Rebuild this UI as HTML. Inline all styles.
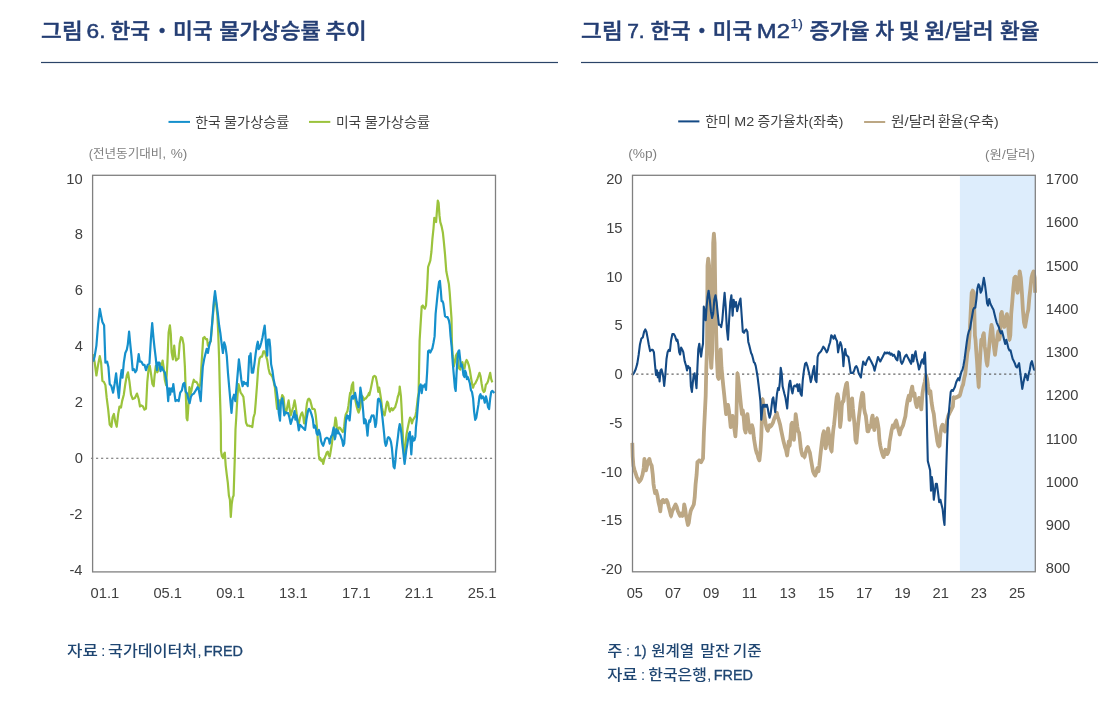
<!DOCTYPE html>
<html lang="ko">
<head>
<meta charset="utf-8">
<title>그림 6 · 그림 7</title>
<style>
html,body{margin:0;padding:0;background:#fff;}
body{width:1104px;height:702px;overflow:hidden;position:relative;}
svg{position:absolute;left:0;top:0;display:block;}
text{font-family:"Liberation Sans","Noto Sans CJK KR",sans-serif;}
.ax text{font-size:14px;font-weight:400;fill:#404040;}
</style>
</head>
<body>
<svg width="1104" height="702" viewBox="0 0 1104 702">
<rect x="41" y="61.9" width="517" height="1.2" fill="#2b4468"/>
<rect x="581" y="61.9" width="517" height="1.2" fill="#2b4468"/>
<rect x="168.5" y="120.9" width="21.5" height="2" fill="#1590cc"/>
<rect x="309" y="120.9" width="21.3" height="2" fill="#9bc33c"/>
<rect x="678.2" y="120.4" width="21.2" height="2" fill="#144a85"/>
<rect x="864.1" y="121" width="21.1" height="2" fill="#bca784"/>
<rect x="959.9" y="175.4" width="75.4" height="396.4" fill="#ddedfc"/>
<line x1="90.95" y1="458.3" x2="495" y2="458.3" stroke="#666" stroke-width="1.1" stroke-dasharray="2.2 2.85"/>
<line x1="631.16" y1="374.1" x2="1035" y2="374.1" stroke="#666" stroke-width="1.1" stroke-dasharray="2.2 2.84"/>
<path d="M93.2 354.1 L94.7 362.6 L96.4 375.5 L98.1 364.8 L99.8 356.2 L101.1 362.6 L102.4 380.8 L103.9 381.9 L105.4 385.1 L106.7 397.9 L108.2 409.7 L109.7 424.6 L111.4 426.8 L112.6 417.1 L113.9 413.9 L115.2 421.4 L116.7 426.8 L118.2 413.9 L119.5 406.5 L121.0 407.5 L122.1 401.1 L123.8 394.7 L125.3 384.0 L126.8 375.5 L128.0 372.3 L129.5 381.9 L131.0 394.7 L132.7 399.0 L134.9 397.9 L137.0 393.6 L138.7 399.0 L140.0 406.5 L141.3 405.4 L143.0 406.5 L144.5 409.7 L146.0 408.6 L147.3 381.9 L148.8 366.9 L149.8 365.9 L151.1 374.4 L152.4 384.0 L153.7 386.2 L154.5 376.5 L155.8 365.9 L157.3 372.3 L158.8 369.1 L160.5 363.7 L161.8 364.8 L162.6 360.5 L163.7 368.0 L164.8 379.7 L166.1 385.1 L167.4 362.6 L168.6 332.7 L169.9 325.3 L170.8 333.8 L171.6 352.0 L172.9 359.4 L174.2 345.6 L175.0 354.1 L176.1 360.5 L177.2 359.4 L178.5 358.4 L179.7 343.4 L181.0 337.0 L182.3 338.1 L183.6 344.5 L184.9 366.9 L185.7 390.4 L186.6 418.2 L187.4 420.3 L188.3 407.5 L189.4 387.2 L190.4 394.7 L191.5 390.4 L192.6 384.0 L193.8 379.7 L195.1 381.9 L196.4 381.9 L197.7 384.0 L199.0 388.3 L200.3 384.0 L201.1 371.2 L202.2 354.1 L203.2 338.1 L204.5 337.0 L205.8 339.1 L207.1 339.1 L207.9 345.6 L209.2 343.4 L210.7 341.3 L212.2 324.2 L213.5 309.2 L214.8 296.4 L216.1 302.8 L217.4 315.6 L218.2 332.7 L219.1 358.4 L219.9 392.6 L220.8 422.5 L221.0 450.6 L221.8 455.9 L223.1 458.1 L224.0 453.8 L224.8 452.7 L225.7 465.6 L226.7 474.1 L227.8 482.7 L228.9 495.5 L229.9 499.8 L230.8 516.9 L231.7 504.1 L232.7 497.6 L233.6 495.5 L234.2 476.3 L234.9 454.9 L235.5 429.2 L236.2 418.2 L237.4 396.8 L238.5 384.0 L239.6 388.3 L240.6 392.6 L242.1 394.7 L243.4 396.8 L244.7 409.7 L246.0 422.5 L247.3 425.7 L249.2 425.7 L249.7 426.1 L251.0 426.1 L252.3 427.1 L253.5 417.5 L254.8 413.2 L255.7 402.6 L257.0 385.5 L258.2 368.4 L259.5 358.8 L260.8 356.6 L262.1 356.6 L263.4 351.3 L264.7 351.3 L265.9 355.6 L267.2 359.8 L268.5 368.4 L269.8 373.7 L271.1 374.8 L272.4 376.9 L273.6 381.2 L274.9 387.6 L276.2 400.4 L277.1 409.0 L278.3 409.0 L279.6 400.4 L280.9 401.5 L282.2 395.1 L283.5 397.2 L284.7 409.0 L286.0 413.2 L287.3 406.8 L288.6 400.4 L289.4 406.8 L290.7 415.4 L292.0 411.1 L293.3 406.8 L294.6 400.4 L295.4 404.7 L296.3 411.1 L297.6 421.8 L298.8 423.9 L300.0 417.5 L301.2 413.9 L302.2 412.5 L303.2 416.1 L304.1 423.3 L305.1 423.3 L306.1 410.3 L307.0 403.0 L308.0 399.4 L309.0 398.7 L310.1 400.1 L311.3 404.5 L312.3 408.8 L313.8 408.8 L314.8 409.6 L315.7 414.6 L316.7 424.8 L317.4 433.5 L318.1 445.1 L318.8 455.2 L319.6 459.6 L320.3 458.1 L321.4 461.0 L322.5 459.6 L323.2 463.9 L323.9 461.0 L324.6 458.1 L325.8 455.2 L326.8 452.3 L327.8 451.6 L328.7 455.2 L329.7 456.7 L330.4 453.0 L331.2 448.0 L331.9 443.6 L332.6 437.8 L333.3 433.5 L334.1 429.1 L334.8 423.3 L335.5 417.5 L336.2 420.4 L336.8 426.2 L337.4 429.1 L338.1 430.6 L338.8 427.7 L339.9 427.7 L340.9 429.1 L341.7 430.6 L342.8 432.0 L343.5 430.6 L344.2 426.2 L344.9 419.0 L345.7 414.6 L346.4 413.2 L347.5 411.0 L348.4 405.9 L349.3 398.7 L350.1 392.9 L350.6 394.0 L351.8 385.5 L353.1 382.3 L353.6 392.9 L355.1 398.7 L356.5 405.9 L357.7 410.3 L358.6 412.5 L359.4 410.3 L360.3 407.4 L361.2 400.1 L362.0 395.8 L362.9 397.2 L363.8 400.1 L364.6 398.7 L365.5 398.7 L366.7 397.2 L367.8 395.8 L369.0 392.9 L369.4 395.1 L370.6 389.7 L371.9 383.3 L373.2 376.9 L374.5 375.9 L375.8 376.9 L377.1 383.3 L378.3 391.9 L378.6 391.4 L379.2 387.6 L380.3 394.3 L381.2 400.1 L382.0 407.4 L382.9 411.7 L383.8 413.9 L384.6 415.4 L385.5 410.3 L386.4 404.5 L387.2 401.6 L388.1 403.0 L389.0 408.8 L389.9 411.7 L390.7 408.8 L391.6 408.1 L392.5 410.3 L393.3 409.6 L394.2 408.1 L395.1 407.4 L395.9 404.5 L396.8 401.6 L397.7 397.2 L398.6 394.3 L399.4 391.4 L399.7 386.5 L400.9 395.8 L401.4 404.5 L402.0 416.1 L402.6 430.6 L403.2 442.2 L403.8 452.3 L404.3 456.7 L404.9 453.8 L405.5 445.1 L406.1 437.8 L406.7 433.5 L407.5 429.1 L408.4 424.8 L409.3 420.4 L410.1 417.5 L411.0 419.0 L411.9 423.3 L412.8 420.4 L413.6 419.0 L414.5 417.5 L415.4 416.1 L416.2 411.7 L417.1 404.5 L417.7 398.7 L418.6 392.9 L419.6 340.7 L420.7 322.6 L421.7 306.6 L422.8 305.5 L423.9 307.6 L424.9 308.7 L426.0 305.5 L427.1 288.4 L428.1 267.0 L429.2 263.8 L430.3 260.6 L431.4 252.0 L432.4 239.2 L433.5 228.5 L434.3 217.8 L435.2 219.9 L436.1 222.1 L436.9 211.4 L437.8 200.7 L438.6 202.8 L439.5 215.7 L440.3 222.1 L441.6 226.4 L442.9 232.8 L443.8 241.3 L445.0 254.2 L446.3 271.3 L447.6 277.7 L448.9 284.1 L449.7 292.7 L450.6 305.5 L451.5 318.3 L451.9 342.8 L452.7 355.7 L453.8 366.4 L454.9 362.1 L455.9 355.7 L457.0 353.5 L458.1 362.1 L459.2 368.5 L460.2 369.6 L461.3 364.2 L462.4 362.1 L463.4 367.4 L464.5 368.5 L465.6 362.1 L466.6 359.9 L467.7 362.1 L468.8 365.3 L469.9 370.6 L470.9 377.0 L472.0 383.5 L473.1 387.7 L474.1 384.5 L475.2 383.5 L476.3 381.3 L477.3 379.2 L478.4 376.0 L479.5 372.8 L480.5 376.0 L481.6 383.5 L482.7 389.9 L483.8 392.0 L484.8 390.9 L485.9 384.5 L487.0 383.5 L488.0 381.3 L489.1 377.0 L490.2 372.8 L491.2 379.2 L492.3 382.4" fill="none" stroke="#9bc33c" stroke-width="2.2" stroke-linejoin="round"/>
<path d="M93.2 361.6 L94.7 356.2 L96.4 345.6 L98.1 324.2 L99.8 308.8 L101.1 315.6 L102.4 322.1 L104.1 325.3 L105.4 362.6 L107.1 361.6 L108.4 366.9 L109.7 384.0 L111.4 386.2 L113.1 392.6 L114.6 384.0 L116.1 373.3 L117.4 386.2 L118.8 397.9 L120.3 379.7 L121.6 370.1 L122.5 377.6 L123.8 362.6 L125.3 353.0 L126.8 349.8 L127.8 344.5 L129.1 331.7 L130.2 343.4 L131.5 356.2 L132.7 370.1 L134.0 369.1 L135.3 372.3 L136.6 370.1 L137.9 360.5 L138.7 354.1 L139.8 361.6 L141.3 361.6 L143.0 364.8 L144.5 364.8 L146.0 370.1 L147.7 364.8 L149.4 363.7 L150.9 339.1 L152.2 323.1 L153.5 338.1 L154.5 347.7 L155.8 358.4 L156.9 370.1 L157.9 362.6 L159.4 362.6 L160.5 371.2 L161.8 366.9 L163.1 370.1 L164.8 372.3 L166.5 380.8 L167.4 390.4 L168.2 401.1 L169.1 388.3 L170.1 394.7 L171.2 388.3 L172.5 391.5 L173.3 384.0 L174.6 394.7 L175.5 401.1 L177.2 400.0 L178.7 401.1 L180.2 392.6 L181.9 390.4 L183.2 384.0 L184.4 382.9 L185.7 391.5 L187.2 393.6 L188.3 399.0 L189.6 403.2 L190.9 396.8 L192.1 394.7 L193.8 393.6 L195.1 391.5 L196.4 389.4 L197.5 387.2 L198.5 388.3 L199.8 395.8 L200.7 401.1 L201.8 381.9 L202.8 366.9 L204.3 358.4 L205.4 354.1 L206.7 348.8 L207.9 353.0 L209.2 345.6 L210.7 340.2 L212.2 322.1 L213.7 302.8 L215.0 291.1 L216.5 302.8 L217.8 313.5 L219.1 325.3 L220.3 332.7 L221.6 343.4 L222.9 353.0 L224.2 342.4 L225.5 346.6 L226.8 356.2 L228.0 373.3 L229.3 388.3 L230.6 403.2 L231.5 412.9 L232.7 399.0 L234.0 394.7 L235.3 401.1 L236.6 386.2 L237.9 371.2 L238.9 359.4 L240.0 368.0 L241.3 379.7 L242.6 386.2 L243.8 381.9 L245.1 384.0 L246.4 382.9 L247.7 386.2 L249.2 356.2 L249.3 362.0 L250.6 353.4 L251.8 372.6 L253.1 372.6 L254.4 364.1 L255.7 353.4 L257.0 344.9 L257.8 341.7 L258.7 349.1 L260.0 347.0 L261.2 342.7 L262.5 337.4 L263.8 329.9 L264.7 325.6 L265.5 336.3 L266.4 349.1 L267.2 355.6 L268.1 339.5 L269.4 339.5 L270.2 347.0 L271.1 364.1 L272.4 370.5 L273.6 379.1 L274.9 385.5 L276.2 387.6 L277.1 394.0 L277.9 400.4 L278.8 413.2 L280.0 420.7 L280.9 402.6 L282.2 398.3 L283.0 402.6 L284.3 415.4 L285.6 412.2 L286.9 413.2 L288.2 413.2 L289.4 417.5 L290.7 423.9 L292.0 419.7 L293.3 416.5 L294.6 411.1 L295.4 419.7 L296.3 415.4 L297.6 421.8 L298.8 430.3 L300.0 424.8 L301.4 426.2 L302.9 427.7 L305.1 429.9 L306.5 419.0 L308.0 411.0 L309.0 408.8 L310.1 410.3 L311.6 414.6 L312.8 419.0 L313.8 427.7 L314.8 425.5 L315.7 427.7 L316.7 433.5 L317.7 434.9 L318.8 429.9 L320.0 433.5 L321.0 440.7 L322.0 443.6 L323.2 445.8 L324.3 442.2 L325.4 438.6 L326.8 437.8 L328.3 438.6 L329.0 440.0 L329.7 443.6 L330.4 439.3 L331.2 436.4 L332.2 434.9 L333.0 430.6 L333.6 427.7 L334.2 433.5 L334.8 439.3 L335.5 436.4 L336.2 429.1 L337.0 433.5 L337.7 430.6 L338.4 432.0 L339.1 433.5 L340.3 434.9 L341.3 437.8 L342.3 440.7 L343.2 445.8 L344.2 443.6 L344.9 433.5 L345.7 423.3 L346.4 417.5 L347.1 415.4 L347.8 418.3 L348.7 416.1 L349.6 420.4 L350.4 411.7 L351.0 401.6 L351.6 397.2 L352.5 395.8 L353.3 398.7 L354.2 397.2 L355.1 392.9 L355.9 397.2 L356.8 401.6 L357.7 404.5 L358.6 407.4 L359.4 401.6 L360.1 392.9 L360.4 387.6 L361.7 396.2 L362.3 401.6 L363.2 411.7 L364.1 423.3 L364.9 419.0 L365.8 420.4 L366.7 427.7 L367.5 435.7 L368.4 424.8 L369.3 420.4 L370.1 421.9 L371.0 417.5 L371.9 415.4 L372.8 416.1 L373.6 415.4 L374.5 420.4 L375.4 427.0 L376.2 423.3 L377.1 411.7 L378.0 399.4 L378.8 398.7 L379.7 400.1 L380.6 403.0 L381.4 408.8 L382.3 416.1 L383.2 424.8 L384.1 433.5 L384.9 442.2 L385.8 445.8 L386.7 443.6 L387.5 438.6 L388.4 437.1 L389.3 437.8 L390.1 439.3 L391.0 442.2 L391.9 448.0 L392.8 458.1 L393.6 466.8 L394.5 468.3 L395.4 461.0 L396.2 450.9 L397.1 443.6 L398.0 436.4 L398.8 429.1 L399.7 424.1 L400.6 427.7 L401.4 433.5 L402.3 443.6 L403.2 450.9 L404.1 459.6 L404.6 463.9 L405.5 456.7 L406.4 449.4 L407.2 445.1 L408.1 439.3 L409.0 433.5 L409.9 432.0 L410.7 445.1 L411.3 454.5 L411.9 445.1 L412.5 436.4 L413.3 440.7 L414.5 440.0 L415.4 436.4 L415.9 427.7 L416.8 419.0 L417.7 407.4 L418.6 397.2 L419.6 386.7 L420.7 384.5 L421.7 393.1 L422.8 385.6 L423.9 386.7 L424.9 384.5 L426.0 389.9 L427.1 372.8 L428.1 351.4 L429.2 350.3 L430.3 352.5 L431.4 350.3 L432.4 348.2 L433.5 342.8 L434.6 336.4 L435.6 314.0 L436.9 301.2 L438.2 288.4 L439.1 282.0 L439.9 280.9 L440.8 290.5 L441.6 301.2 L442.5 301.2 L443.3 303.3 L444.2 309.8 L445.0 316.2 L446.3 317.2 L447.6 317.2 L448.9 320.5 L449.7 324.7 L450.6 336.4 L451.7 347.1 L452.7 362.1 L453.8 374.9 L454.9 387.7 L455.7 390.9 L456.6 372.8 L457.4 359.9 L458.3 351.4 L459.2 350.3 L460.0 357.8 L460.9 366.4 L461.7 364.2 L462.6 368.5 L463.4 374.9 L464.5 377.0 L465.1 370.6 L466.0 372.8 L466.9 379.2 L467.7 377.0 L468.6 379.2 L469.9 383.5 L470.9 389.9 L472.0 392.0 L473.1 398.4 L474.1 411.3 L475.2 419.8 L476.3 417.7 L477.3 411.3 L478.4 404.9 L479.5 396.3 L480.5 394.2 L481.6 398.4 L482.7 396.3 L483.8 398.4 L484.8 402.7 L485.9 396.3 L487.0 400.6 L488.0 407.0 L489.1 409.1 L490.2 398.4 L491.2 392.0 L492.3 390.9 L493.4 392.0 L494.4 393.1" fill="none" stroke="#1590cc" stroke-width="2.2" stroke-linejoin="round"/>
<path d="M632.3 442.9 L632.7 456.6 L633.4 465.7 L634.6 470.3 L635.7 473.7 L636.8 477.1 L638.0 479.4 L639.1 481.7 L640.3 480.5 L641.4 478.3 L642.5 474.8 L643.7 468.0 L644.4 458.9 L645.0 465.7 L646.0 470.3 L647.1 465.7 L648.2 461.2 L649.4 458.9 L650.5 463.4 L651.7 465.7 L652.8 474.8 L653.5 484.0 L654.2 488.5 L655.1 493.1 L656.2 490.8 L657.4 495.4 L658.5 502.2 L659.6 506.8 L660.3 511.3 L661.0 504.5 L661.9 501.1 L663.0 499.9 L664.2 502.2 L665.3 501.1 L666.5 499.9 L667.6 502.2 L668.7 506.8 L669.9 511.3 L671.0 515.9 L672.2 511.3 L673.3 509.0 L674.4 506.8 L675.6 504.5 L676.7 506.8 L677.9 511.3 L679.0 513.6 L680.1 515.9 L681.3 513.6 L682.4 515.9 L683.6 511.3 L684.2 504.5 L685.2 509.0 L686.1 515.9 L687.0 520.4 L687.9 525.0 L688.8 522.7 L689.7 515.9 L690.6 511.3 L691.5 509.0 L692.7 506.8 L693.8 504.5 L694.7 497.6 L695.6 484.0 L696.6 474.8 L697.4 462.2 L699.3 460.4 L701.1 462.2 L703.0 458.5 L703.9 432.6 L704.8 414.1 L705.7 395.6 L706.3 367.8 L707.0 349.3 L707.5 265.6 L708.2 258.7 L709.1 265.6 L709.8 311.2 L710.7 358.5 L711.3 367.8 L712.2 351.1 L713.2 242.8 L713.9 233.7 L714.6 242.8 L715.2 288.4 L716.2 334.0 L716.9 358.5 L717.8 377.0 L718.7 378.9 L719.6 367.8 L720.6 349.3 L721.5 367.8 L722.4 377.0 L723.3 386.3 L724.3 395.6 L725.2 404.8 L726.1 414.1 L727.0 410.4 L728.0 404.8 L728.9 410.4 L729.8 417.8 L730.7 427.0 L731.7 419.6 L732.6 415.9 L733.5 421.5 L734.4 428.9 L735.4 436.3 L736.3 423.3 L736.9 395.6 L737.4 373.3 L738.1 377.0 L739.1 386.3 L740.0 395.6 L740.9 404.8 L741.9 414.1 L742.8 410.4 L743.7 417.8 L744.6 428.9 L745.6 432.6 L746.5 417.8 L747.4 414.1 L748.3 421.5 L749.3 428.9 L750.2 432.6 L751.1 430.7 L752.0 425.2 L753.0 428.9 L753.9 438.1 L754.8 443.7 L755.7 449.3 L756.7 453.0 L757.6 454.8 L758.5 458.5 L759.4 460.4 L760.4 451.1 L761.3 436.3 L761.9 417.8 L762.6 399.3 L763.3 404.8 L764.1 414.1 L765.0 419.6 L765.9 425.2 L766.9 428.9 L767.8 430.7 L768.7 427.0 L769.6 425.2 L770.0 427.0 L771.4 425.6 L772.9 422.8 L774.3 418.5 L775.7 415.6 L776.8 412.8 L777.8 417.1 L778.8 419.9 L780.0 424.2 L781.1 429.9 L782.3 435.6 L783.5 441.3 L785.0 447.0 L786.0 449.8 L787.1 455.5 L788.0 448.4 L788.8 441.3 L789.7 445.6 L790.7 434.2 L791.4 424.2 L792.2 422.8 L793.1 429.9 L793.9 439.9 L794.8 428.5 L795.7 414.2 L796.5 419.9 L797.4 427.0 L798.2 431.3 L799.1 432.7 L799.9 439.9 L800.8 448.4 L801.6 452.7 L802.5 455.5 L803.5 454.1 L804.5 457.0 L805.6 452.7 L806.8 448.4 L807.8 447.0 L808.8 449.8 L809.9 452.7 L811.0 459.8 L812.0 465.5 L813.0 471.2 L814.2 474.1 L815.3 475.5 L816.3 472.6 L817.3 468.4 L818.5 471.2 L819.3 465.5 L820.2 457.0 L821.0 449.8 L822.0 441.3 L823.0 434.2 L823.9 431.3 L824.7 439.9 L825.6 448.4 L826.4 444.1 L827.3 437.0 L828.1 428.5 L829.0 434.2 L829.9 442.7 L830.7 448.4 L831.6 451.3 L832.4 439.9 L833.3 429.9 L834.1 424.2 L835.0 415.6 L835.8 405.7 L836.7 397.1 L837.6 394.3 L838.4 398.5 L839.3 408.5 L840.1 427.0 L841.0 419.9 L841.8 405.7 L842.7 401.4 L843.5 401.4 L844.4 392.8 L845.2 388.6 L846.1 384.3 L847.0 382.9 L847.8 391.4 L848.7 405.7 L849.5 419.9 L850.4 414.2 L851.2 400.0 L852.1 398.5 L852.9 408.5 L853.8 417.1 L854.7 427.0 L855.5 439.9 L856.4 442.7 L857.2 434.2 L858.1 424.2 L858.9 417.1 L859.8 409.9 L860.6 402.8 L861.5 397.1 L862.3 392.8 L863.2 394.3 L864.1 408.5 L864.9 412.8 L865.8 415.6 L866.6 422.8 L867.5 431.3 L868.3 431.3 L869.2 428.5 L870.0 425.6 L870.9 427.0 L871.8 418.5 L872.6 415.6 L873.5 424.2 L874.3 429.9 L875.2 422.8 L876.0 419.9 L876.9 418.5 L877.7 422.8 L878.6 428.5 L879.4 439.9 L880.3 445.6 L881.2 449.8 L882.0 452.7 L882.9 455.5 L883.7 457.0 L884.6 452.7 L885.4 449.8 L886.3 451.3 L887.1 454.1 L888.0 452.7 L888.9 449.8 L889.7 441.3 L890.5 436.8 L891.7 429.9 L892.8 425.4 L894.0 427.6 L895.1 423.1 L896.2 420.8 L897.4 425.4 L898.5 429.9 L899.7 434.5 L900.8 429.9 L901.9 427.6 L903.1 425.4 L904.2 420.8 L905.4 416.2 L906.5 407.1 L907.6 400.3 L908.8 395.7 L909.9 400.3 L911.1 391.2 L912.2 386.6 L913.3 395.7 L914.5 393.4 L915.6 402.6 L916.8 407.1 L917.9 400.3 L919.0 398.0 L920.2 402.6 L921.3 409.4 L922.5 393.4 L923.6 386.6 L924.7 382.1 L925.9 375.2 L927.0 378.6 L928.1 386.6 L929.3 393.4 L930.4 391.2 L931.6 402.6 L932.7 409.4 L933.8 414.0 L935.0 425.4 L936.1 432.2 L937.3 441.3 L938.4 445.9 L939.5 445.9 L940.4 433.8 L941.5 426.9 L942.6 424.7 L943.8 429.2 L944.9 431.5 L946.1 426.9 L947.2 420.1 L948.3 415.6 L949.5 413.3 L950.6 411.0 L951.8 408.7 L952.9 406.4 L953.5 397.4 L955.6 397.4 L957.8 396.4 L959.9 395.3 L961.0 391.0 L962.1 386.8 L963.1 384.6 L964.2 378.2 L965.3 373.9 L966.3 363.2 L967.4 352.6 L968.5 348.3 L969.5 335.5 L970.6 314.1 L971.7 292.7 L972.7 290.6 L973.8 292.7 L974.4 314.1 L974.9 335.5 L975.5 339.7 L976.2 350.4 L977.0 361.1 L977.9 376.1 L978.7 386.8 L979.6 367.5 L980.4 352.6 L981.3 339.7 L982.1 344.0 L983.0 335.5 L983.8 333.3 L984.7 346.2 L985.6 352.6 L986.4 361.1 L987.3 365.4 L988.1 356.8 L989.0 348.3 L989.8 339.7 L990.7 331.2 L991.5 324.8 L992.4 329.1 L993.2 339.7 L994.1 348.3 L995.0 354.7 L995.8 348.3 L996.7 341.9 L997.5 335.5 L998.4 331.2 L999.2 339.7 L1000.1 335.5 L1000.9 314.1 L1001.8 312.0 L1002.6 318.4 L1003.5 324.8 L1004.4 326.9 L1005.2 322.6 L1006.1 316.2 L1006.9 314.1 L1007.8 320.5 L1008.6 331.2 L1009.5 339.7 L1010.3 335.5 L1011.2 314.1 L1012.3 301.3 L1013.3 288.5 L1014.4 277.8 L1015.5 276.7 L1016.5 288.5 L1017.6 292.7 L1018.7 284.2 L1019.7 271.4 L1020.8 277.8 L1021.9 292.7 L1022.9 309.8 L1024.0 322.6 L1025.1 326.9 L1026.2 320.5 L1027.2 314.1 L1028.3 309.8 L1029.4 297.0 L1030.4 288.5 L1031.5 277.8 L1032.6 273.5 L1033.6 271.4 L1034.7 277.8 L1035.1 292.7" fill="none" stroke="#bca784" stroke-width="3.8" stroke-linejoin="round"/>
<path d="M632.3 441.6 L632.7 456.8 L633.4 465.1 L633.8 467.8 L634.2 469.4 L634.6 468.0 L634.9 468.9 L635.3 474.3 L635.7 472.5 L636.1 473.5 L636.5 478.6 L636.8 477.0 L637.2 479.6 L637.6 478.5 L638.0 480.1 L638.4 478.3 L638.7 481.6 L639.1 483.6 L639.5 481.4 L639.9 482.2 L640.3 481.4 L640.6 477.5 L641.0 480.4 L641.4 478.7 L641.8 476.1 L642.2 473.5 L642.5 476.7 L642.9 472.4 L643.3 471.4 L643.7 470.0 L644.4 460.0 L645.0 467.9 L645.5 467.5 L646.0 471.8 L646.3 468.5 L646.7 469.5 L647.1 467.7 L647.5 462.1 L647.9 460.8 L648.2 459.7 L648.6 462.8 L649.0 459.3 L649.4 459.5 L649.8 459.4 L650.1 462.0 L650.5 462.9 L650.9 463.4 L651.3 465.4 L651.7 466.2 L652.0 470.9 L652.4 472.8 L652.8 477.1 L653.5 485.8 L654.2 491.1 L654.6 491.7 L655.1 491.3 L655.5 494.2 L655.8 494.0 L656.2 492.9 L656.6 492.7 L657.0 494.9 L657.4 493.9 L657.7 499.4 L658.1 500.3 L658.5 501.1 L658.9 501.4 L659.2 507.1 L659.6 509.3 L660.3 509.2 L661.0 506.0 L661.5 502.3 L661.9 499.2 L662.3 499.6 L662.7 501.7 L663.0 501.9 L663.4 498.3 L663.8 502.0 L664.2 499.8 L664.6 502.9 L664.9 500.6 L665.3 503.0 L665.7 503.2 L666.1 500.3 L666.5 502.5 L666.8 499.7 L667.2 499.2 L667.6 502.7 L668.0 501.3 L668.4 503.7 L668.7 506.3 L669.1 508.8 L669.5 508.0 L669.9 508.9 L670.3 514.7 L670.6 513.4 L671.0 518.3 L671.4 516.4 L671.8 512.2 L672.2 511.1 L672.5 510.7 L672.9 510.5 L673.3 509.5 L673.7 508.6 L674.1 508.1 L674.4 509.0 L674.8 506.0 L675.2 504.9 L675.6 505.6 L676.0 503.9 L676.3 505.0 L676.7 509.2 L677.1 508.4 L677.5 510.0 L677.9 508.8 L678.2 511.6 L678.6 513.2 L679.0 511.1 L679.4 515.0 L679.8 515.8 L680.1 513.6 L680.5 515.8 L680.9 514.2 L681.3 514.5 L681.7 513.6 L682.0 516.2 L682.4 517.1 L682.8 511.9 L683.2 510.5 L683.6 512.2 L684.2 506.9 L684.7 505.5 L685.2 508.8 L685.6 512.9 L686.1 514.9 L686.5 517.4 L687.0 519.5 L687.4 522.0 L687.9 525.5 L688.3 522.8 L688.8 522.1 L689.3 520.7 L689.7 513.4 L690.2 513.9 L690.6 512.5 L691.1 509.2 L691.5 507.6 L691.9 509.9 L692.3 506.2 L692.7 505.1 L693.1 505.7 L693.4 506.3 L693.8 502.4 L694.3 500.1 L694.7 496.8 L695.2 492.5 L695.6 483.6 L696.1 481.3 L696.6 473.1 L697.0 467.7 L697.4 463.0 L697.8 463.9 L698.1 461.2 L698.5 459.7 L698.9 458.8 L699.3 460.5 L699.6 459.1 L700.0 462.7 L700.4 463.2 L700.7 460.2 L701.1 461.1 L701.5 463.1 L701.9 461.5 L702.2 461.6 L702.6 458.5 L703.0 456.6 L703.4 444.5 L703.9 434.1 L704.4 422.1 L704.8 413.3 L705.3 404.4 L705.7 395.1 L706.3 367.3 L706.7 360.7 L707.0 347.5 L707.5 263.0 L708.2 261.1 L708.6 264.1 L709.1 268.1 L709.8 310.8 L710.3 337.2 L710.7 360.7 L711.3 366.3 L711.8 360.7 L712.2 352.9 L712.7 297.8 L713.2 242.9 L713.9 232.6 L714.6 242.0 L715.2 287.0 L715.7 308.9 L716.2 334.4 L716.9 357.4 L717.3 369.4 L717.8 374.7 L718.2 380.1 L718.7 379.9 L719.2 375.5 L719.6 369.8 L720.1 360.6 L720.6 349.7 L721.0 356.0 L721.5 369.1 L721.9 370.7 L722.4 376.0 L722.9 382.5 L723.3 386.4 L723.8 390.5 L724.3 397.8 L724.7 400.8 L725.2 404.0 L725.6 408.2 L726.1 416.0 L726.6 412.1 L727.0 411.8 L727.5 406.8 L728.0 403.2 L728.4 407.8 L728.9 412.0 L729.4 412.4 L729.8 419.3 L730.3 424.6 L730.7 428.6 L731.2 425.0 L731.7 417.1 L732.1 418.4 L732.6 417.8 L733.1 416.4 L733.5 420.3 L734.0 424.0 L734.4 429.0 L734.9 432.2 L735.4 436.2 L735.8 431.3 L736.3 420.7 L736.9 393.2 L737.4 371.4 L737.8 373.2 L738.1 374.8 L738.6 384.1 L739.1 388.1 L739.5 388.8 L740.0 395.6 L740.5 399.2 L740.9 403.9 L741.4 408.7 L741.9 414.8 L742.3 412.7 L742.8 409.6 L743.2 412.5 L743.7 416.9 L744.2 421.4 L744.6 429.2 L745.1 431.9 L745.6 432.0 L746.0 423.0 L746.5 416.1 L746.9 415.3 L747.4 414.6 L747.9 419.2 L748.3 420.9 L748.8 426.8 L749.3 429.5 L749.7 430.4 L750.2 431.9 L750.6 431.6 L751.1 431.8 L751.6 427.5 L752.0 426.2 L752.5 426.8 L753.0 427.6 L753.4 433.7 L753.9 439.2 L754.4 438.7 L754.8 443.3 L755.3 446.1 L755.7 451.2 L756.2 453.4 L756.7 452.3 L757.1 456.0 L757.6 456.3 L758.1 455.4 L758.5 458.3 L759.0 457.5 L759.4 462.0 L759.9 456.6 L760.4 453.1 L760.8 445.2 L761.3 437.2 L761.9 419.0 L762.2 408.9 L762.6 397.2 L763.0 402.5 L763.3 402.2 L763.7 407.6 L764.1 415.5 L764.5 414.5 L765.0 417.5 L765.5 420.3 L765.9 427.2 L766.4 425.4 L766.9 426.4 L767.3 431.6 L767.8 428.8 L768.2 430.7 L768.7 427.9 L769.2 427.9 L769.6 427.5 L770.0 427.4 L770.4 428.2 L770.7 423.9 L771.1 427.4 L771.4 425.7 L771.8 426.0 L772.1 422.1 L772.5 424.8 L772.9 425.0 L773.2 419.4 L773.6 419.7 L773.9 419.9 L774.3 420.2 L774.6 416.4 L775.0 415.4 L775.3 415.0 L775.7 416.2 L776.1 416.0 L776.5 413.2 L776.8 412.1 L777.3 414.4 L777.8 416.3 L778.3 418.1 L778.8 417.7 L779.2 421.3 L779.6 425.2 L780.0 423.7 L780.4 427.4 L780.7 426.2 L781.1 430.9 L781.5 433.1 L781.9 434.6 L782.3 435.7 L782.7 437.4 L783.1 440.1 L783.5 443.3 L783.9 440.9 L784.3 442.0 L784.6 446.8 L785.0 449.1 L785.5 448.5 L786.0 449.5 L786.3 452.9 L786.7 452.0 L787.1 454.3 L787.5 450.4 L788.0 448.9 L788.4 443.9 L788.8 439.9 L789.2 444.4 L789.7 447.9 L790.2 438.8 L790.7 435.2 L791.0 428.7 L791.4 426.0 L791.8 423.9 L792.2 421.5 L792.7 424.8 L793.1 427.4 L793.5 434.8 L793.9 439.2 L794.4 432.4 L794.8 427.7 L795.2 420.4 L795.7 415.6 L796.1 415.2 L796.5 422.5 L796.9 423.4 L797.4 427.5 L797.8 429.0 L798.2 433.0 L798.6 433.7 L799.1 433.0 L799.5 436.2 L799.9 441.0 L800.4 446.0 L800.8 447.9 L801.2 451.8 L801.6 455.1 L802.1 453.9 L802.5 454.1 L803.0 453.4 L803.5 455.2 L804.0 456.4 L804.5 459.3 L804.9 457.4 L805.2 452.8 L805.6 451.1 L806.0 450.0 L806.4 448.2 L806.8 449.5 L807.3 449.6 L807.8 449.1 L808.3 447.1 L808.8 451.7 L809.1 449.8 L809.5 451.3 L809.9 453.9 L810.3 452.9 L810.7 455.3 L811.0 461.5 L811.5 461.6 L812.0 464.8 L812.5 468.8 L813.0 472.1 L813.4 469.6 L813.8 472.2 L814.2 473.7 L814.6 474.5 L814.9 473.5 L815.3 475.9 L815.8 476.4 L816.3 472.1 L816.8 470.7 L817.3 466.4 L817.7 468.1 L818.1 471.1 L818.5 469.2 L818.9 470.4 L819.3 467.6 L819.7 459.1 L820.2 459.3 L820.6 452.7 L821.0 451.2 L821.5 446.9 L822.0 440.2 L822.5 438.6 L823.0 435.0 L823.4 434.3 L823.9 430.1 L824.3 436.9 L824.7 442.3 L825.2 445.0 L825.6 448.6 L826.0 444.3 L826.4 444.1 L826.9 439.8 L827.3 438.1 L827.7 433.7 L828.1 428.8 L828.6 429.7 L829.0 434.9 L829.4 439.1 L829.9 441.0 L830.3 447.6 L830.7 449.2 L831.1 447.9 L831.6 453.5 L832.0 443.7 L832.4 439.0 L832.8 436.0 L833.3 430.4 L833.7 427.3 L834.1 424.9 L834.6 419.7 L835.0 414.7 L835.4 409.0 L835.8 403.4 L836.3 402.5 L836.7 398.4 L837.1 395.9 L837.6 395.5 L838.0 395.7 L838.4 397.3 L838.8 402.9 L839.3 410.4 L839.7 415.4 L840.1 427.1 L840.5 422.2 L841.0 421.3 L841.4 412.0 L841.8 404.8 L842.3 403.0 L842.7 401.6 L843.1 402.8 L843.5 400.6 L844.0 398.9 L844.4 390.8 L844.8 389.5 L845.2 386.5 L845.7 384.4 L846.1 385.7 L846.5 384.7 L847.0 381.2 L847.4 385.5 L847.8 391.0 L848.2 399.8 L848.7 407.3 L849.1 414.1 L849.5 420.4 L849.9 415.2 L850.4 413.7 L850.8 405.5 L851.2 400.1 L851.7 399.6 L852.1 397.0 L852.5 402.2 L852.9 410.0 L853.4 410.3 L853.8 418.6 L854.2 424.1 L854.7 429.4 L855.1 432.8 L855.5 440.1 L855.9 441.7 L856.4 443.4 L856.8 440.9 L857.2 435.1 L857.6 428.1 L858.1 426.1 L858.5 420.5 L858.9 417.6 L859.4 414.7 L859.8 407.3 L860.2 407.8 L860.6 403.6 L861.1 399.9 L861.5 397.2 L861.9 394.8 L862.3 391.2 L862.8 393.7 L863.2 391.8 L863.6 401.4 L864.1 409.3 L864.5 410.3 L864.9 413.1 L865.3 416.6 L865.8 417.7 L866.2 417.3 L866.6 424.3 L867.1 427.7 L867.5 429.0 L867.9 430.6 L868.3 429.9 L868.8 427.7 L869.2 428.7 L869.6 429.3 L870.0 424.7 L870.5 428.2 L870.9 428.0 L871.3 420.9 L871.8 420.3 L872.2 417.6 L872.6 417.8 L873.0 421.0 L873.5 425.4 L873.9 426.2 L874.3 431.5 L874.7 428.6 L875.2 424.6 L875.6 421.0 L876.0 421.2 L876.5 419.1 L876.9 416.4 L877.3 418.2 L877.7 420.6 L878.2 424.0 L878.6 426.7 L879.0 434.1 L879.4 440.9 L879.9 442.9 L880.3 445.2 L880.7 448.5 L881.2 448.8 L881.6 451.1 L882.0 454.0 L882.4 453.6 L882.9 453.9 L883.3 458.3 L883.7 458.1 L884.2 454.1 L884.6 452.0 L885.0 451.4 L885.4 450.3 L885.9 449.1 L886.3 448.7 L886.7 451.2 L887.1 455.6 L887.6 451.5 L888.0 452.5 L888.4 449.7 L888.9 448.3 L889.3 443.8 L889.7 440.8 L890.1 437.3 L890.5 434.3 L890.9 432.4 L891.3 430.5 L891.7 429.9 L892.1 426.1 L892.4 424.4 L892.8 425.1 L893.2 425.6 L893.6 427.9 L894.0 425.3 L894.3 425.6 L894.7 424.1 L895.1 420.6 L895.5 424.7 L895.9 420.1 L896.2 418.7 L896.6 422.2 L897.0 422.1 L897.4 426.0 L897.8 426.1 L898.1 426.4 L898.5 427.6 L898.9 432.6 L899.3 431.8 L899.7 436.0 L900.0 432.8 L900.4 433.7 L900.8 428.9 L901.2 427.9 L901.6 427.2 L901.9 429.3 L902.3 427.5 L902.7 425.3 L903.1 423.2 L903.5 424.8 L903.8 424.8 L904.2 421.3 L904.6 416.7 L905.0 415.3 L905.4 414.1 L905.7 411.5 L906.1 407.8 L906.5 404.8 L906.9 405.6 L907.3 404.6 L907.6 398.7 L908.0 401.2 L908.4 397.1 L908.8 397.3 L909.2 399.4 L909.5 401.1 L909.9 397.9 L910.3 396.2 L910.7 394.8 L911.1 393.5 L911.4 387.5 L911.8 387.1 L912.2 388.4 L912.6 387.6 L913.0 392.1 L913.3 394.9 L913.7 395.9 L914.1 396.4 L914.5 391.8 L914.9 397.7 L915.2 400.7 L915.6 404.3 L916.0 404.4 L916.4 407.8 L916.8 406.4 L917.1 404.4 L917.5 401.2 L917.9 401.7 L918.3 399.4 L918.7 397.6 L919.0 396.3 L919.4 400.7 L919.8 401.6 L920.2 403.7 L920.6 404.3 L920.9 407.1 L921.3 407.6 L921.7 405.2 L922.1 396.3 L922.5 393.3 L922.8 392.5 L923.2 389.8 L923.6 384.5 L924.0 383.7 L924.3 385.4 L924.7 382.8 L925.1 381.7 L925.5 379.4 L925.9 375.0 L926.2 378.4 L926.6 378.7 L927.0 377.8 L927.4 380.6 L927.8 381.7 L928.1 386.1 L928.5 391.3 L928.9 389.1 L929.3 393.8 L929.7 390.7 L930.0 389.7 L930.4 391.9 L930.8 393.6 L931.2 396.4 L931.6 400.8 L931.9 405.6 L932.3 407.6 L932.7 406.9 L933.1 409.5 L933.5 414.9 L933.8 412.5 L934.2 418.1 L934.6 421.1 L935.0 426.8 L935.4 428.2 L935.7 431.4 L936.1 432.4 L936.5 433.6 L936.9 436.6 L937.3 439.1 L937.6 444.5 L938.0 442.3 L938.4 443.4 L938.8 448.3 L939.2 444.3 L939.5 447.9 L940.0 437.7 L940.4 433.6 L940.7 430.1 L941.1 430.9 L941.5 427.5 L941.9 426.9 L942.3 426.8 L942.6 426.6 L943.0 425.4 L943.4 428.2 L943.8 428.9 L944.2 428.0 L944.5 432.5 L944.9 432.0 L945.3 431.6 L945.7 426.9 L946.1 427.2 L946.4 424.5 L946.8 423.6 L947.2 417.9 L947.6 417.8 L948.0 417.0 L948.3 413.3 L948.7 415.1 L949.1 415.3 L949.5 412.9 L949.9 413.3 L950.2 412.3 L950.6 409.5 L951.0 409.5 L951.4 412.1 L951.8 407.9 L952.1 407.6 L952.5 405.0 L952.9 405.0 L953.5 395.7 L953.9 399.7 L954.2 398.6 L954.6 399.4 L954.9 400.0 L955.3 398.0 L955.6 399.7 L956.0 397.4 L956.4 396.7 L956.7 399.2 L957.1 398.8 L957.4 398.9 L957.8 396.3 L958.1 397.6 L958.5 395.5 L958.8 398.4 L959.2 397.8 L959.6 394.4 L959.9 397.6 L960.3 392.2 L960.6 390.3 L961.0 392.2 L961.3 388.5 L961.7 388.3 L962.1 387.5 L962.4 383.7 L962.8 386.6 L963.1 383.5 L963.5 382.1 L963.8 379.5 L964.2 379.5 L964.5 378.1 L964.9 374.3 L965.3 371.9 L965.6 369.3 L966.0 366.3 L966.3 361.1 L966.7 357.9 L967.0 357.5 L967.4 353.6 L967.7 353.6 L968.1 352.2 L968.5 350.2 L968.8 343.4 L969.2 338.0 L969.5 334.5 L969.9 328.2 L970.2 321.4 L970.6 314.3 L971.0 306.3 L971.3 301.7 L971.7 291.6 L972.0 291.8 L972.4 293.3 L972.7 292.2 L973.1 290.3 L973.4 290.7 L973.8 294.3 L974.4 311.6 L974.9 333.6 L975.5 339.9 L976.2 350.6 L976.6 354.0 L977.0 358.8 L977.4 367.1 L977.9 377.5 L978.3 381.2 L978.7 389.2 L979.1 378.6 L979.6 370.0 L980.0 357.6 L980.4 350.9 L980.9 343.6 L981.3 339.4 L981.7 341.0 L982.1 341.7 L982.6 340.0 L983.0 333.4 L983.4 333.4 L983.8 332.0 L984.3 341.3 L984.7 345.7 L985.1 348.1 L985.6 350.2 L986.0 356.5 L986.4 361.8 L986.8 364.2 L987.3 367.5 L987.7 362.7 L988.1 355.5 L988.5 350.7 L989.0 349.6 L989.4 345.5 L989.8 339.8 L990.3 337.2 L990.7 331.5 L991.1 326.8 L991.5 323.1 L992.0 324.4 L992.4 329.8 L992.8 336.5 L993.2 341.9 L993.7 343.8 L994.1 349.2 L994.5 353.7 L995.0 356.3 L995.4 352.0 L995.8 347.8 L996.2 345.2 L996.7 340.2 L997.1 337.0 L997.5 336.4 L997.9 335.9 L998.4 331.4 L998.8 335.0 L999.2 339.0 L999.7 337.4 L1000.1 337.0 L1000.5 324.5 L1000.9 316.5 L1001.4 311.2 L1001.8 311.0 L1002.2 315.3 L1002.6 317.9 L1003.1 323.4 L1003.5 326.5 L1003.9 328.1 L1004.4 327.5 L1004.8 322.3 L1005.2 323.0 L1005.6 319.7 L1006.1 316.2 L1006.5 314.0 L1006.9 315.2 L1007.4 319.4 L1007.8 318.4 L1008.2 326.7 L1008.6 330.5 L1009.1 335.5 L1009.5 341.8 L1009.9 340.0 L1010.3 336.2 L1010.8 323.2 L1011.2 316.3 L1011.6 308.2 L1011.9 304.9 L1012.3 303.0 L1012.6 296.1 L1013.0 291.5 L1013.3 290.8 L1013.7 287.2 L1014.0 280.4 L1014.4 277.2 L1014.8 276.3 L1015.1 275.1 L1015.5 275.4 L1015.8 283.1 L1016.2 282.4 L1016.5 287.1 L1016.9 288.3 L1017.3 289.1 L1017.6 292.9 L1018.0 291.1 L1018.3 288.8 L1018.7 284.9 L1019.0 281.6 L1019.4 273.1 L1019.7 270.2 L1020.1 275.9 L1020.5 273.4 L1020.8 276.6 L1021.2 282.7 L1021.5 286.5 L1021.9 293.0 L1022.2 296.1 L1022.6 302.8 L1022.9 312.2 L1023.3 312.3 L1023.7 320.5 L1024.0 321.0 L1024.4 326.6 L1024.7 326.4 L1025.1 327.7 L1025.4 322.9 L1025.8 320.3 L1026.2 321.9 L1026.5 316.7 L1026.9 314.6 L1027.2 315.8 L1027.6 314.6 L1027.9 308.9 L1028.3 312.2 L1028.6 305.7 L1029.0 300.7 L1029.4 295.0 L1029.7 293.6 L1030.1 293.8 L1030.4 287.3 L1030.8 283.0 L1031.1 279.5 L1031.5 275.8 L1031.9 275.6 L1032.2 277.1 L1032.6 271.3 L1032.9 271.2 L1033.3 274.4 L1033.6 274.0 L1034.0 276.0 L1034.3 274.3 L1034.7 277.0 L1035.1 292.7" fill="none" stroke="#bca784" stroke-width="1.0" stroke-linejoin="miter"/>
<path d="M632.7 375.0 L634.1 372.7 L635.7 369.3 L637.3 363.6 L638.7 354.5 L640.0 344.2 L641.4 338.5 L642.8 337.4 L644.1 331.7 L645.3 329.4 L646.4 331.7 L647.5 337.4 L648.7 344.2 L650.1 351.1 L651.4 349.9 L652.8 349.9 L653.9 352.2 L655.1 365.9 L656.0 375.0 L656.9 370.4 L657.8 377.3 L658.7 372.7 L659.6 381.4 L660.5 370.4 L661.5 369.3 L662.4 372.7 L663.3 377.3 L664.2 386.0 L665.3 375.0 L666.5 359.0 L667.6 352.2 L668.7 349.9 L669.9 351.1 L671.0 340.8 L672.4 334.0 L673.8 334.0 L675.1 336.2 L676.5 340.8 L677.4 339.7 L678.3 344.2 L679.2 352.2 L680.1 354.5 L681.1 347.6 L682.4 349.9 L683.3 352.2 L684.7 361.3 L686.1 365.9 L687.0 370.4 L688.1 365.9 L689.3 368.1 L690.0 367.8 L690.9 386.3 L691.9 391.9 L692.8 382.6 L693.7 375.2 L694.6 373.3 L695.6 380.7 L696.5 388.1 L697.4 367.8 L698.3 349.3 L699.3 343.7 L700.2 351.1 L701.1 356.7 L702.0 349.3 L703.0 343.7 L703.8 306.6 L704.8 311.2 L705.7 320.3 L706.6 306.6 L707.5 297.5 L708.6 290.7 L709.8 299.8 L710.9 311.2 L712.1 318.0 L713.2 313.4 L714.3 299.8 L715.5 295.2 L716.6 302.1 L717.7 313.4 L718.9 324.8 L720.0 324.8 L721.2 327.1 L722.3 320.3 L723.4 306.6 L724.6 292.9 L725.7 306.6 L726.9 329.4 L728.0 339.7 L729.1 320.3 L730.3 302.1 L731.4 295.2 L732.6 315.7 L733.7 299.8 L734.8 306.6 L736.0 302.1 L737.1 311.2 L738.3 306.6 L739.4 302.1 L740.5 298.6 L741.7 315.7 L742.8 331.7 L744.0 332.8 L745.1 330.5 L746.2 329.4 L747.4 331.7 L748.3 341.9 L749.3 345.6 L750.2 349.3 L751.1 353.0 L752.0 354.8 L753.0 358.5 L753.9 362.2 L754.8 363.1 L755.7 365.9 L756.7 371.5 L757.6 377.0 L758.5 384.4 L759.4 391.9 L760.4 401.1 L761.3 419.6 L762.2 410.4 L763.1 404.8 L764.1 406.7 L765.0 404.8 L765.9 406.7 L766.9 404.8 L767.8 408.5 L768.7 414.1 L769.6 417.8 L770.6 414.1 L771.5 406.7 L772.4 399.3 L773.3 397.4 L774.3 404.8 L775.2 412.2 L776.1 403.0 L777.0 393.7 L778.0 388.1 L778.9 390.0 L779.8 382.6 L780.7 367.8 L781.7 373.3 L782.6 386.3 L783.5 390.0 L784.4 393.7 L785.4 397.4 L786.3 403.0 L787.2 408.5 L788.1 395.6 L789.1 384.4 L790.0 380.7 L790.3 380.9 L791.4 388.9 L792.5 393.4 L793.7 386.6 L794.8 385.5 L796.0 386.6 L797.1 384.3 L798.2 391.2 L799.4 384.3 L800.5 393.4 L801.7 395.7 L802.8 379.8 L803.9 370.7 L805.1 363.8 L806.2 362.7 L807.4 366.1 L808.5 370.7 L809.6 375.2 L810.8 382.1 L811.9 377.5 L813.0 370.7 L814.2 366.1 L815.3 379.8 L816.5 382.1 L817.6 357.0 L818.7 353.6 L819.9 352.4 L821.0 351.3 L822.2 349.0 L823.3 346.7 L824.4 347.9 L825.6 350.1 L826.7 352.4 L827.9 350.1 L829.0 345.6 L830.1 342.2 L831.3 335.3 L832.4 336.5 L833.6 338.7 L834.7 335.3 L835.8 338.7 L837.0 341.0 L838.1 352.4 L839.3 345.6 L840.4 342.2 L841.5 345.6 L842.7 354.7 L843.4 366.1 L844.3 354.7 L845.2 349.0 L846.1 354.7 L847.2 355.8 L848.4 357.0 L849.5 363.8 L850.7 372.9 L851.8 372.9 L852.9 372.9 L854.1 370.7 L855.2 367.2 L856.4 366.1 L857.5 368.4 L858.6 372.9 L859.8 375.2 L860.9 377.5 L862.1 368.4 L863.2 361.5 L864.3 363.8 L865.5 365.0 L866.6 361.5 L867.7 359.3 L868.9 357.0 L870.0 359.3 L871.2 361.5 L872.3 363.8 L873.4 366.1 L874.6 370.7 L875.7 366.1 L876.9 361.5 L878.0 357.0 L879.1 359.3 L880.3 361.5 L881.4 359.3 L882.6 357.0 L883.7 354.7 L884.8 352.4 L886.0 353.6 L887.1 352.4 L888.3 353.6 L889.4 352.4 L890.5 354.7 L891.7 353.6 L892.8 355.8 L894.0 354.7 L895.1 357.0 L896.2 359.3 L897.4 360.4 L898.5 351.3 L899.7 352.4 L900.8 361.5 L901.9 363.8 L903.1 361.5 L904.2 358.1 L905.4 355.8 L906.5 354.7 L907.6 357.0 L908.8 359.3 L909.9 361.5 L911.1 363.8 L912.2 354.7 L913.3 361.5 L914.5 354.7 L915.6 351.3 L916.8 359.3 L917.9 363.8 L919.0 369.5 L920.2 366.1 L921.3 361.5 L922.5 359.3 L923.6 363.8 L924.3 354.7 L925.0 352.4 L925.9 375.2 L926.6 402.6 L927.2 436.8 L927.8 461.1 L929.0 465.7 L930.1 470.2 L931.0 490.7 L931.9 477.1 L932.8 483.9 L933.8 499.8 L934.7 493.0 L935.8 483.9 L936.9 483.9 L938.1 493.0 L939.2 502.1 L940.4 499.8 L941.5 504.4 L942.6 509.0 L943.8 520.3 L944.5 524.9 L945.1 506.7 L946.1 472.5 L947.0 445.2 L947.9 420.1 L949.0 411.0 L950.2 397.3 L950.7 392.1 L951.8 390.0 L952.9 391.0 L953.9 388.9 L955.0 386.8 L956.1 382.5 L957.1 380.3 L958.2 378.2 L959.3 380.3 L960.3 376.1 L961.4 371.8 L962.5 369.7 L963.5 365.4 L964.6 359.0 L965.7 350.4 L966.8 341.9 L967.8 335.5 L968.9 331.2 L970.0 329.1 L971.0 322.6 L972.1 316.2 L973.2 309.8 L974.2 307.7 L975.3 307.7 L976.4 299.1 L977.4 288.5 L978.5 284.2 L979.6 286.3 L980.6 292.7 L981.7 290.6 L982.8 284.2 L983.8 277.8 L984.9 284.2 L986.0 292.7 L987.1 303.4 L988.1 305.6 L989.2 299.1 L990.3 303.4 L991.3 305.6 L992.4 307.7 L993.5 309.8 L994.5 314.1 L995.6 318.4 L996.7 322.6 L997.7 324.8 L998.8 326.9 L999.9 331.2 L1000.9 333.3 L1002.0 331.2 L1003.1 335.5 L1004.1 339.7 L1005.2 344.0 L1006.3 339.7 L1007.4 344.0 L1008.4 348.3 L1009.5 350.4 L1010.6 350.4 L1011.6 354.7 L1012.7 359.0 L1013.8 361.1 L1014.8 363.2 L1015.9 366.5 L1017.0 367.5 L1018.0 365.4 L1019.1 363.2 L1020.2 371.8 L1021.2 380.3 L1022.3 388.9 L1023.4 382.5 L1024.4 378.2 L1025.5 373.9 L1026.6 376.1 L1027.6 380.3 L1028.7 373.9 L1029.8 369.7 L1030.9 363.2 L1031.9 361.1 L1033.0 365.4 L1034.1 369.7 L1035.1 369.7" fill="none" stroke="#144a85" stroke-width="2.1" stroke-linejoin="round"/>
<rect x="92.6" y="175.3" width="402.9" height="396.6" fill="none" stroke="#808080" stroke-width="1.3"/>
<rect x="632.5" y="175.3" width="402.8" height="396.5" fill="none" stroke="#808080" stroke-width="1.3"/>
<text x="41.13" y="38.05" font-size="21" font-weight="500" fill="#243e74" stroke="#243e74" stroke-width="0.45" textLength="41.51" lengthAdjust="spacingAndGlyphs">그림</text>
<text x="86.52" y="38.05" font-size="21" font-weight="400" fill="#243e74" stroke="#243e74" stroke-width="0.55" textLength="18.92" lengthAdjust="spacingAndGlyphs">6.</text>
<text x="110.47" y="38.05" font-size="21" font-weight="500" fill="#243e74" stroke="#243e74" stroke-width="0.45" textLength="39.68" lengthAdjust="spacingAndGlyphs">한국</text>
<text x="159.11" y="36.90" font-size="19" font-weight="500" fill="#243e74" stroke="#243e74" stroke-width="0.45" textLength="6.19" lengthAdjust="spacingAndGlyphs">•</text>
<text x="172.95" y="38.05" font-size="21" font-weight="500" fill="#243e74" stroke="#243e74" stroke-width="0.45" textLength="39.61" lengthAdjust="spacingAndGlyphs">미국</text>
<text x="219.15" y="38.05" font-size="21" font-weight="500" fill="#243e74" stroke="#243e74" stroke-width="0.45" textLength="101.69" lengthAdjust="spacingAndGlyphs">물가상승률</text>
<text x="325.43" y="38.05" font-size="21" font-weight="500" fill="#243e74" stroke="#243e74" stroke-width="0.45" textLength="41.40" lengthAdjust="spacingAndGlyphs">추이</text>
<text x="581.13" y="38.05" font-size="21" font-weight="500" fill="#243e74" stroke="#243e74" stroke-width="0.45" textLength="41.51" lengthAdjust="spacingAndGlyphs">그림</text>
<text x="627.20" y="38.05" font-size="21" font-weight="400" fill="#243e74" stroke="#243e74" stroke-width="0.55" textLength="17.52" lengthAdjust="spacingAndGlyphs">7.</text>
<text x="650.46" y="38.05" font-size="21" font-weight="500" fill="#243e74" stroke="#243e74" stroke-width="0.45" textLength="40.21" lengthAdjust="spacingAndGlyphs">한국</text>
<text x="698.81" y="37.10" font-size="19" font-weight="500" fill="#243e74" stroke="#243e74" stroke-width="0.45" textLength="6.19" lengthAdjust="spacingAndGlyphs">•</text>
<text x="712.87" y="38.05" font-size="21" font-weight="500" fill="#243e74" stroke="#243e74" stroke-width="0.45" textLength="39.18" lengthAdjust="spacingAndGlyphs">미국</text>
<text x="756.87" y="38.05" font-size="21" font-weight="400" fill="#243e74" stroke="#243e74" stroke-width="0.5" textLength="33.04" lengthAdjust="spacingAndGlyphs">M2</text>
<text x="790.43" y="28.05" font-size="13" font-weight="400" fill="#243e74" stroke="#243e74" stroke-width="0.25" textLength="12.37" lengthAdjust="spacingAndGlyphs">1)</text>
<text x="809.46" y="38.05" font-size="21" font-weight="500" fill="#243e74" stroke="#243e74" stroke-width="0.45" textLength="60.04" lengthAdjust="spacingAndGlyphs">증가율</text>
<text x="875.20" y="38.05" font-size="21" font-weight="500" fill="#243e74" stroke="#243e74" stroke-width="0.45" textLength="18.82" lengthAdjust="spacingAndGlyphs">차</text>
<text x="898.74" y="38.05" font-size="21" font-weight="500" fill="#243e74" stroke="#243e74" stroke-width="0.45" textLength="20.90" lengthAdjust="spacingAndGlyphs">및</text>
<text x="924.31" y="38.05" font-size="21" font-weight="500" fill="#243e74" stroke="#243e74" stroke-width="0.45" textLength="69.34" lengthAdjust="spacingAndGlyphs">원/달러</text>
<text x="999.90" y="38.05" font-size="21" font-weight="500" fill="#243e74" stroke="#243e74" stroke-width="0.45" textLength="39.56" lengthAdjust="spacingAndGlyphs">환율</text>
<text x="195.17" y="126.60" font-size="13.5" font-weight="400" fill="#404040" textLength="25.49" lengthAdjust="spacingAndGlyphs">한국</text>
<text x="224.05" y="126.60" font-size="13.5" font-weight="400" fill="#404040" textLength="65.21" lengthAdjust="spacingAndGlyphs">물가상승률</text>
<text x="335.98" y="126.60" font-size="13.5" font-weight="400" fill="#404040" textLength="25.28" lengthAdjust="spacingAndGlyphs">미국</text>
<text x="364.65" y="126.60" font-size="13.5" font-weight="400" fill="#404040" textLength="65.42" lengthAdjust="spacingAndGlyphs">물가상승률</text>
<text x="705.16" y="126.00" font-size="13.5" font-weight="400" fill="#404040" textLength="25.75" lengthAdjust="spacingAndGlyphs">한미</text>
<text x="734.24" y="126.00" font-size="13.5" font-weight="400" fill="#404040" textLength="19.98" lengthAdjust="spacingAndGlyphs">M2</text>
<text x="757.57" y="126.00" font-size="13.5" font-weight="400" fill="#404040" textLength="85.76" lengthAdjust="spacingAndGlyphs">증가율차(좌축)</text>
<text x="890.90" y="126.00" font-size="13.5" font-weight="400" fill="#404040" textLength="45.12" lengthAdjust="spacingAndGlyphs">원/달러</text>
<text x="937.66" y="126.00" font-size="13.5" font-weight="400" fill="#404040" textLength="61.04" lengthAdjust="spacingAndGlyphs">환율(우축)</text>
<text x="88.79" y="158.15" font-size="12.5" font-weight="400" fill="#808080" textLength="77.15" lengthAdjust="spacingAndGlyphs">(전년동기대비,</text>
<text x="170.80" y="158.15" font-size="12.5" font-weight="400" fill="#808080" textLength="16.59" lengthAdjust="spacingAndGlyphs">%)</text>
<text x="628.20" y="157.85" font-size="12.5" font-weight="400" fill="#808080" textLength="28.94" lengthAdjust="spacingAndGlyphs">(%p)</text>
<text x="985.12" y="158.75" font-size="12.5" font-weight="400" fill="#808080" textLength="49.81" lengthAdjust="spacingAndGlyphs">(원/달러)</text>
<text x="67.14" y="656.20" font-size="14.5" font-weight="500" fill="#1f4672" textLength="30.85" lengthAdjust="spacingAndGlyphs">자료</text>
<text x="100.90" y="656.20" font-size="14.5" font-weight="500" fill="#1f4672" textLength="4.43" lengthAdjust="spacingAndGlyphs">:</text>
<text x="108.09" y="656.20" font-size="14.5" font-weight="500" fill="#1f4672" textLength="93.61" lengthAdjust="spacingAndGlyphs">국가데이터처,</text>
<text x="203.70" y="656.20" font-size="15.5" font-weight="500" fill="#1f4672" stroke="#1f4672" stroke-width="0.35" textLength="39.25" lengthAdjust="spacingAndGlyphs">FRED</text>
<text x="607.16" y="655.80" font-size="14.5" font-weight="500" fill="#1f4672" textLength="15.23" lengthAdjust="spacingAndGlyphs">주</text>
<text x="625.90" y="655.80" font-size="14.5" font-weight="500" fill="#1f4672" textLength="4.03" lengthAdjust="spacingAndGlyphs">:</text>
<text x="633.84" y="655.80" font-size="15.5" font-weight="500" fill="#1f4672" stroke="#1f4672" stroke-width="0.35" textLength="12.83" lengthAdjust="spacingAndGlyphs">1)</text>
<text x="651.23" y="655.80" font-size="14.5" font-weight="500" fill="#1f4672" textLength="42.98" lengthAdjust="spacingAndGlyphs">원계열</text>
<text x="700.19" y="655.80" font-size="14.5" font-weight="500" fill="#1f4672" textLength="29.57" lengthAdjust="spacingAndGlyphs">말잔</text>
<text x="732.82" y="655.80" font-size="14.5" font-weight="500" fill="#1f4672" textLength="28.93" lengthAdjust="spacingAndGlyphs">기준</text>
<text x="607.16" y="680.15" font-size="14.5" font-weight="500" fill="#1f4672" textLength="30.32" lengthAdjust="spacingAndGlyphs">자료</text>
<text x="641.00" y="680.15" font-size="14.5" font-weight="500" fill="#1f4672" textLength="4.03" lengthAdjust="spacingAndGlyphs">:</text>
<text x="648.30" y="680.15" font-size="14.5" font-weight="500" fill="#1f4672" textLength="63.03" lengthAdjust="spacingAndGlyphs">한국은행,</text>
<text x="713.70" y="680.15" font-size="15.5" font-weight="500" fill="#1f4672" stroke="#1f4672" stroke-width="0.35" textLength="39.25" lengthAdjust="spacingAndGlyphs">FRED</text>
<g class="ax">
<text x="66.25" y="183.60" textLength="16.36" lengthAdjust="spacingAndGlyphs">10</text>
<text x="74.65" y="239.45" textLength="8.19" lengthAdjust="spacingAndGlyphs">8</text>
<text x="74.65" y="295.30" textLength="8.19" lengthAdjust="spacingAndGlyphs">6</text>
<text x="74.65" y="351.15" textLength="8.19" lengthAdjust="spacingAndGlyphs">4</text>
<text x="74.65" y="407.00" textLength="8.19" lengthAdjust="spacingAndGlyphs">2</text>
<text x="74.65" y="462.85" textLength="8.19" lengthAdjust="spacingAndGlyphs">0</text>
<text x="69.40" y="518.70" textLength="13.08" lengthAdjust="spacingAndGlyphs">-2</text>
<text x="69.40" y="574.55" textLength="13.08" lengthAdjust="spacingAndGlyphs">-4</text>
<text x="90.55" y="598.20" textLength="28.61" lengthAdjust="spacingAndGlyphs">01.1</text>
<text x="153.41" y="598.20" textLength="28.61" lengthAdjust="spacingAndGlyphs">05.1</text>
<text x="216.27" y="598.20" textLength="28.61" lengthAdjust="spacingAndGlyphs">09.1</text>
<text x="279.13" y="598.20" textLength="28.61" lengthAdjust="spacingAndGlyphs">13.1</text>
<text x="341.99" y="598.20" textLength="28.61" lengthAdjust="spacingAndGlyphs">17.1</text>
<text x="404.85" y="598.20" textLength="28.61" lengthAdjust="spacingAndGlyphs">21.1</text>
<text x="467.71" y="598.20" textLength="28.61" lengthAdjust="spacingAndGlyphs">25.1</text>
<text x="606.15" y="184.00" textLength="16.36" lengthAdjust="spacingAndGlyphs">20</text>
<text x="606.15" y="232.75" textLength="16.36" lengthAdjust="spacingAndGlyphs">15</text>
<text x="606.15" y="281.50" textLength="16.36" lengthAdjust="spacingAndGlyphs">10</text>
<text x="614.55" y="330.25" textLength="8.19" lengthAdjust="spacingAndGlyphs">5</text>
<text x="614.55" y="379.00" textLength="8.19" lengthAdjust="spacingAndGlyphs">0</text>
<text x="609.30" y="427.75" textLength="13.08" lengthAdjust="spacingAndGlyphs">-5</text>
<text x="600.90" y="476.50" textLength="21.25" lengthAdjust="spacingAndGlyphs">-10</text>
<text x="600.90" y="525.25" textLength="21.25" lengthAdjust="spacingAndGlyphs">-15</text>
<text x="600.90" y="574.00" textLength="21.25" lengthAdjust="spacingAndGlyphs">-20</text>
<text x="1045.75" y="184.00" textLength="32.71" lengthAdjust="spacingAndGlyphs">1700</text>
<text x="1045.75" y="227.27" textLength="32.71" lengthAdjust="spacingAndGlyphs">1600</text>
<text x="1045.75" y="270.54" textLength="32.71" lengthAdjust="spacingAndGlyphs">1500</text>
<text x="1045.75" y="313.81" textLength="32.71" lengthAdjust="spacingAndGlyphs">1400</text>
<text x="1045.75" y="357.08" textLength="32.71" lengthAdjust="spacingAndGlyphs">1300</text>
<text x="1045.75" y="400.35" textLength="32.71" lengthAdjust="spacingAndGlyphs">1200</text>
<text x="1045.75" y="443.62" textLength="31.61" lengthAdjust="spacingAndGlyphs">1100</text>
<text x="1045.75" y="486.89" textLength="32.71" lengthAdjust="spacingAndGlyphs">1000</text>
<text x="1045.75" y="530.16" textLength="24.53" lengthAdjust="spacingAndGlyphs">900</text>
<text x="1045.75" y="573.43" textLength="24.53" lengthAdjust="spacingAndGlyphs">800</text>
<text x="626.70" y="598.00" textLength="16.36" lengthAdjust="spacingAndGlyphs">05</text>
<text x="664.92" y="598.00" textLength="16.36" lengthAdjust="spacingAndGlyphs">07</text>
<text x="703.14" y="598.00" textLength="16.36" lengthAdjust="spacingAndGlyphs">09</text>
<text x="741.88" y="598.00" textLength="15.27" lengthAdjust="spacingAndGlyphs">11</text>
<text x="779.58" y="598.00" textLength="16.36" lengthAdjust="spacingAndGlyphs">13</text>
<text x="817.80" y="598.00" textLength="16.36" lengthAdjust="spacingAndGlyphs">15</text>
<text x="856.02" y="598.00" textLength="16.36" lengthAdjust="spacingAndGlyphs">17</text>
<text x="894.24" y="598.00" textLength="16.36" lengthAdjust="spacingAndGlyphs">19</text>
<text x="932.46" y="598.00" textLength="16.36" lengthAdjust="spacingAndGlyphs">21</text>
<text x="970.68" y="598.00" textLength="16.36" lengthAdjust="spacingAndGlyphs">23</text>
<text x="1008.90" y="598.00" textLength="16.36" lengthAdjust="spacingAndGlyphs">25</text>
</g>
</svg>
</body>
</html>
